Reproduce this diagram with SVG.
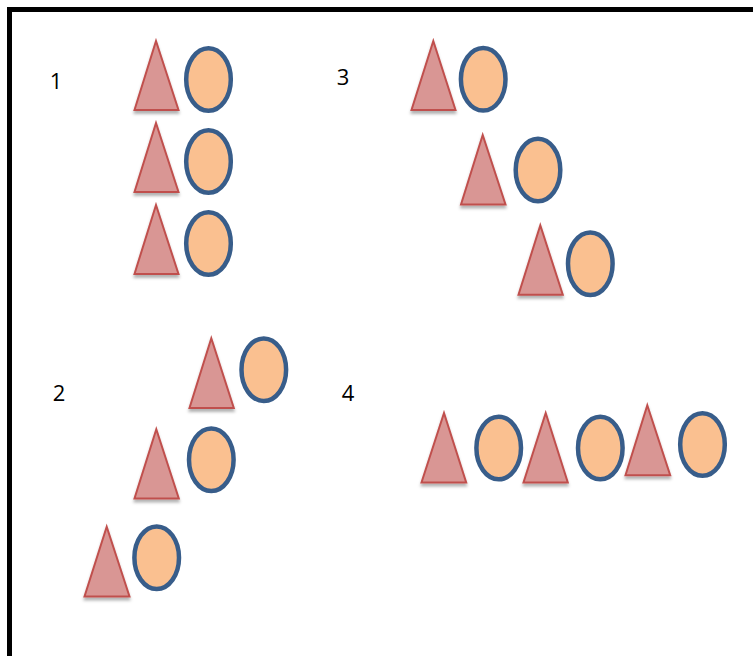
<svg xmlns="http://www.w3.org/2000/svg" width="753" height="656" viewBox="0 0 753 656">
<defs>
<filter id="sh" x="-30%" y="-30%" width="160%" height="160%">
<feDropShadow dx="0" dy="3" stdDeviation="1.5" flood-color="#000" flood-opacity="0.3"/>
</filter>
</defs>
<style>
.tri{fill:#D99694;stroke:#C0504D;stroke-width:2;stroke-linejoin:miter;filter:url(#sh)}
.ell{fill:#FAC090;stroke:#385D8A;stroke-width:4.5}
.lbl{font-family:"Open Sans","Liberation Sans",sans-serif;font-size:22px;fill:#000;text-anchor:middle}
</style>
<rect x="0" y="0" width="753" height="656" fill="#fff"/>
<rect id="frame" x="9.5" y="9.5" width="800" height="700" fill="none" stroke="#000" stroke-width="5"/>
<g id="labels">
<text class="lbl" x="56" y="89">1</text>
<text class="lbl" x="343" y="85">3</text>
<text class="lbl" x="59" y="401">2</text>
<text class="lbl" x="348" y="401">4</text>
</g>
<g id="group1">
<g id="g1-p1"><polygon class="tri" points="156,41 134.5,110 178.5,110"/><ellipse class="ell" cx="208.5" cy="79.5" rx="22.3" ry="31.3"/></g>
<g id="g1-p2"><polygon class="tri" points="156,123 134.5,192 178.5,192"/><ellipse class="ell" cx="208.5" cy="161.5" rx="22.3" ry="31.3"/></g>
<g id="g1-p3"><polygon class="tri" points="156,205 134.5,274 178.5,274"/><ellipse class="ell" cx="208.5" cy="243.5" rx="22.3" ry="31.3"/></g>
</g>
<g id="group3">
<g id="g3-p1"><polygon class="tri" points="433.3,41 411.5,110 455.5,110"/><ellipse class="ell" cx="483.2" cy="79.3" rx="22.3" ry="31.3"/></g>
<g id="g3-p2"><polygon class="tri" points="482.7,135 461,204.5 505.5,204.5"/><ellipse class="ell" cx="538" cy="170" rx="22.3" ry="31.3"/></g>
<g id="g3-p3"><polygon class="tri" points="540.3,225.3 518.5,294.8 562.8,294.8"/><ellipse class="ell" cx="590.3" cy="263.7" rx="22.3" ry="31.3"/></g>
</g>
<g id="group2">
<g id="g2-p1"><polygon class="tri" points="211.3,338.3 189.5,408 233.8,408"/><ellipse class="ell" cx="263.8" cy="369.7" rx="22.3" ry="31.3"/></g>
<g id="g2-p2"><polygon class="tri" points="156.3,429.3 134.5,498.5 178.8,498.5"/><ellipse class="ell" cx="211.3" cy="459.7" rx="22.3" ry="31.3"/></g>
<g id="g2-p3"><polygon class="tri" points="106.7,526.7 84.5,596.5 129.5,596.5"/><ellipse class="ell" cx="156.7" cy="557.7" rx="22.3" ry="31.3"/></g>
</g>
<g id="group4">
<g id="g4-p1"><polygon class="tri" points="444,413 421.5,482.5 466.2,482.5"/><ellipse class="ell" cx="498.7" cy="448" rx="22.3" ry="31.3"/></g>
<g id="g4-p2"><polygon class="tri" points="545.7,413 523.5,482.5 567.8,482.5"/><ellipse class="ell" cx="600.3" cy="448" rx="22.3" ry="31.3"/></g>
<g id="g4-p3"><polygon class="tri" points="647.3,405.3 625.5,475.2 670.2,475.2"/><ellipse class="ell" cx="702.5" cy="444.5" rx="22.3" ry="31.3"/></g>
</g>
</svg>
